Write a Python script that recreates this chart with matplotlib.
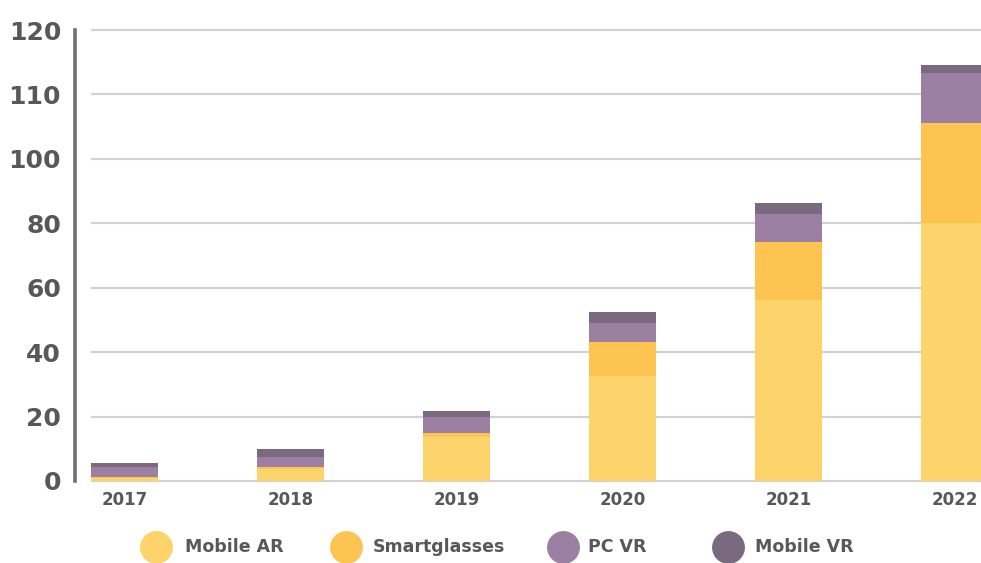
import matplotlib
matplotlib.use("Agg")
import matplotlib.pyplot as plt
import numpy as np

years = ["2017", "2018", "2019", "2020", "2021", "2022"]
mobile_ar = [1.0, 3.8, 13.6, 32.5, 56.2, 80.0]
smartglasses = [0.3, 0.6, 1.2, 10.5, 17.9, 31.0]
pc_vr = [3.2, 3.1, 5.2, 6.2, 8.7, 15.5]
mobile_vr = [1.0, 2.3, 1.7, 3.2, 3.4, 2.6]
series_names = ["Mobile AR", "Smartglasses", "PC VR", "Mobile VR"]
colors = ["#FDD46C", "#FDC452", "#9B80A4", "#7A6A80"]
tick_pos = [0, 20, 40, 60, 80, 100, 120, 140]
tick_labels = ["0", "20", "40", "60", "80", "100", "110", "120"]

W, H = 981, 563
fig = plt.figure(figsize=(W / 100, H / 100), dpi=100)
ax = fig.add_axes([75 / W, 82 / H, 906 / W, 451 / H])

x = np.arange(len(years))
width = 0.40
xmin, xmax = -0.298, 5.16
ax.set_xlim(xmin, xmax)
ax.set_ylim(0, 140)

# gridlines
ax.hlines(tick_pos, -0.2, xmax, colors="#d2d2d2", linewidth=1.6, zorder=1, clip_on=False)

bottom = np.zeros(len(years))
for vals, col, name in zip([mobile_ar, smartglasses, pc_vr, mobile_vr], colors, series_names):
    ax.bar(x, vals, width=width, bottom=bottom, color=col, zorder=2, label=name, linewidth=0)
    bottom += np.array(vals)

for s in ["top", "right", "bottom"]:
    ax.spines[s].set_visible(False)
ax.spines["left"].set_color("#707070")
ax.spines["left"].set_linewidth(2.6)

ax.set_yticks(tick_pos)
ax.set_yticklabels(tick_labels)
ax.set_xticks(x)
ax.set_xticklabels(years)
ax.tick_params(axis="y", length=0, pad=10, labelsize=18, labelcolor="#585858")
ax.tick_params(axis="x", length=0, pad=7, labelsize=12, labelcolor="#585858")
for lab in ax.get_yticklabels() + ax.get_xticklabels():
    lab.set_fontweight("bold")

# legend row (manual layout in pixel space)
lax = fig.add_axes([0, 0, 1, 1], zorder=-1)
lax.set_xlim(0, W)
lax.set_ylim(H, 0)
lax.axis("off")
marker_x = [156, 346, 563, 728]
text_x = [185, 373, 588, 755]
leg_y = 547
for mx, tx, col, name in zip(marker_x, text_x, colors, series_names):
    lax.scatter([mx], [leg_y], s=560, color=col, linewidths=0)
    lax.text(tx, leg_y, name, ha="left", va="center", fontsize=12.5,
             fontweight="bold", color="#585858")

fig.savefig("out.png", dpi=100, facecolor="white")
